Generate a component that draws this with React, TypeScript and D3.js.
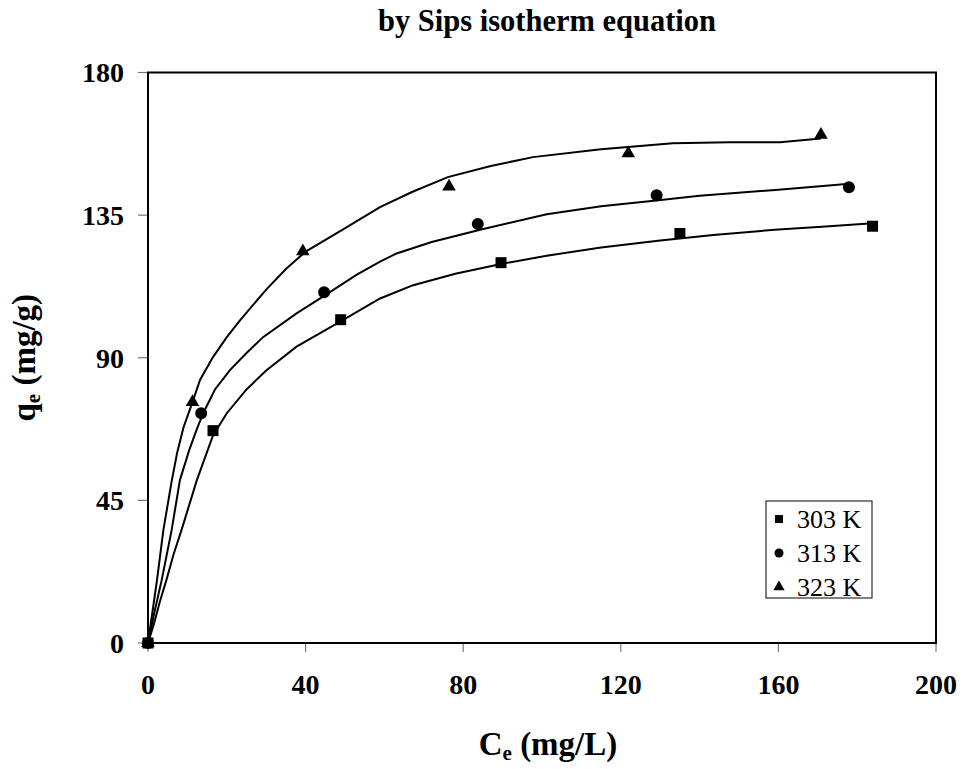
import React from 'react';
import * as d3 from 'd3';

// Chart text and axis ticks
const chartTitle = 'by Sips isotherm equation';
const xTicks = [0, 40, 80, 120, 160, 200];
const yTicks = [0, 45, 90, 135, 180];
const seriesLabels = ['303 K', '313 K', '323 K'];

// Experimental points (Ce in mg/L, qe in mg/g)
const ce303 = [0, 16.5, 48.9, 89.6, 135, 183.9];
const qe303 = [0, 67, 102, 120, 129.2, 131.5];
const ce313 = [0, 13.5, 44.7, 83.7, 129.1, 177.9];
const qe313 = [0, 72.5, 110.7, 132.2, 141.3, 143.8];
const ce323 = [0, 11.3, 39.3, 76.4, 121.9, 170.8];
const qe323 = [0, 76, 123.6, 144, 154.5, 160.3];

// Sips model curves
const fitCe303 = [0, 1.5, 3, 4.7, 6.5, 8.5, 12.4, 16.5, 20, 25, 30, 37.7, 48.9, 58.9, 67.3, 78, 89.6, 101.2, 115, 130, 143.5, 160, 172, 183.9];
const fitQe303 = [0, 6, 13, 20, 28, 35.6, 51.4, 65.5, 72.5, 80, 86, 93.5, 101.5, 108.7, 112.9, 116.5, 119.6, 122.2, 124.8, 127, 128.7, 130.5, 131.4, 132.4];
const fitCe313 = [0, 1.5, 3.5, 6, 8.1, 10.5, 12.4, 14, 17, 20.8, 25, 29.2, 37.7, 44.7, 53, 58.9, 63.1, 72, 84.3, 101.2, 115, 129, 140, 160, 177.3];
const fitQe313 = [0, 9, 20, 35.6, 51.4, 61, 67.5, 72.5, 80, 86.1, 91.5, 96.5, 104, 109.5, 116.2, 120.3, 122.9, 126.5, 130.4, 135.3, 137.8, 139.6, 141.1, 143, 144.8];
const fitCe323 = [0, 2.3, 3.9, 6, 7.4, 9, 11.3, 13.2, 16.5, 20, 23.4, 30, 35, 40, 49.2, 58.9, 67, 76.1, 87, 97.7, 115, 133.2, 147.7, 160.4, 170.8];
const fitQe323 = [0, 20, 35.6, 51, 60, 68, 76, 83, 90.2, 96.5, 101.9, 111.5, 118, 123.5, 130.3, 137.5, 142.3, 147, 150.5, 153.3, 155.8, 157.7, 158, 158, 159.2];

const W = 962;
const H = 769;
const plot = { left: 148, right: 936, top: 72.5, bottom: 643 };
const serif = "'Liberation Serif', 'Times New Roman', 'DejaVu Serif', serif";

const symbols = [d3.symbolSquare, d3.symbolCircle, d3.symbolTriangle];
const symbolSizes = [121, 113, 80];
const legendSizes = [64, 64, 56];

export default function App() {
  const x = d3.scaleLinear().domain([0, 200]).range([plot.left, plot.right]);
  const y = d3.scaleLinear().domain([0, 180]).range([plot.bottom, plot.top]);

  const series = [
    { ce: ce303, qe: qe303, fc: fitCe303, fq: fitQe303 },
    { ce: ce313, qe: qe313, fc: fitCe313, fq: fitQe313 },
    { ce: ce323, qe: qe323, fc: fitCe323, fq: fitQe323 },
  ];

  const line = d3
    .line<[number, number]>()
    .x((d) => x(d[0]))
    .y((d) => y(d[1]))
    .curve(d3.curveLinear);

  const legend = { x: 766, y: 501, w: 106, h: 97, row: 34 };
  const txt = { fontFamily: serif };

  return (
    <svg
      width={W}
      height={H}
      style={{ position: 'absolute', left: 0, top: 0, background: '#fff', fontFamily: serif }}
    >
      <rect x={0} y={0} width={W} height={H} fill="#fff" />
      <text x={547} y={31} textAnchor="middle" fontSize={30.5} fontWeight="bold" style={txt}>
        {chartTitle}
      </text>

      {/* y ticks */}
      {yTicks.map((t) => (
        <g key={'y' + t}>
          <line x1={plot.left - 10} x2={plot.left} y1={y(t)} y2={y(t)} stroke="#777" strokeWidth={1.2} />
          <text x={124} y={y(t)} dy="0.35em" textAnchor="end" fontSize={28} fontWeight="bold" style={txt}>
            {t}
          </text>
        </g>
      ))}
      {/* x ticks */}
      {xTicks.map((t) => (
        <g key={'x' + t}>
          <line x1={x(t)} x2={x(t)} y1={plot.bottom} y2={plot.bottom + 9} stroke="#777" strokeWidth={1.2} />
          <text x={x(t)} y={694} textAnchor="middle" fontSize={28} fontWeight="bold" style={txt}>
            {t}
          </text>
        </g>
      ))}

      {/* plot frame */}
      <rect
        x={plot.left}
        y={plot.top}
        width={plot.right - plot.left}
        height={plot.bottom - plot.top}
        fill="none"
        stroke="#000"
        strokeWidth={2}
      />

      {/* model curves */}
      {series.map((s, i) => (
        <path
          key={'c' + i}
          d={line(s.fc.map((c, j) => [c, s.fq[j]] as [number, number])) || ''}
          fill="none"
          stroke="#000"
          strokeWidth={2}
        />
      ))}

      {/* data points */}
      {series.map((s, i) =>
        s.ce.map((c, j) => (
          <path
            key={'p' + i + '-' + j}
            d={d3.symbol(symbols[i], symbolSizes[i])() || ''}
            transform={`translate(${x(c)},${y(s.qe[j])})`}
            fill="#000"
          />
        ))
      )}

      {/* axis titles */}
      <text x={548} y={755} textAnchor="middle" fontSize={33} fontWeight="bold" style={txt}>
        C<tspan fontSize={21} dy={5}>e</tspan>
        <tspan dy={-5}> (mg/L)</tspan>
      </text>
      <text
        transform={`translate(35,${(plot.top + plot.bottom) / 2}) rotate(-90)`}
        textAnchor="middle"
        fontSize={33}
        fontWeight="bold"
        style={txt}
      >
        q<tspan fontSize={21} dy={5}>e</tspan>
        <tspan dy={-5}> (mg/g)</tspan>
      </text>

      {/* legend */}
      <rect x={legend.x} y={legend.y} width={legend.w} height={legend.h} fill="#fff" stroke="#000" strokeWidth={1} />
      {seriesLabels.map((lab, i) => {
        const cy = legend.y + 18 + i * legend.row;
        return (
          <g key={'l' + i}>
            <path
              d={d3.symbol(symbols[i], legendSizes[i])() || ''}
              transform={`translate(${legend.x + 13},${cy})`}
              fill="#000"
            />
            <text x={legend.x + 31} y={cy} dy="0.35em" fontSize={26} style={txt}>
              {lab}
            </text>
          </g>
        );
      })}
    </svg>
  );
}
